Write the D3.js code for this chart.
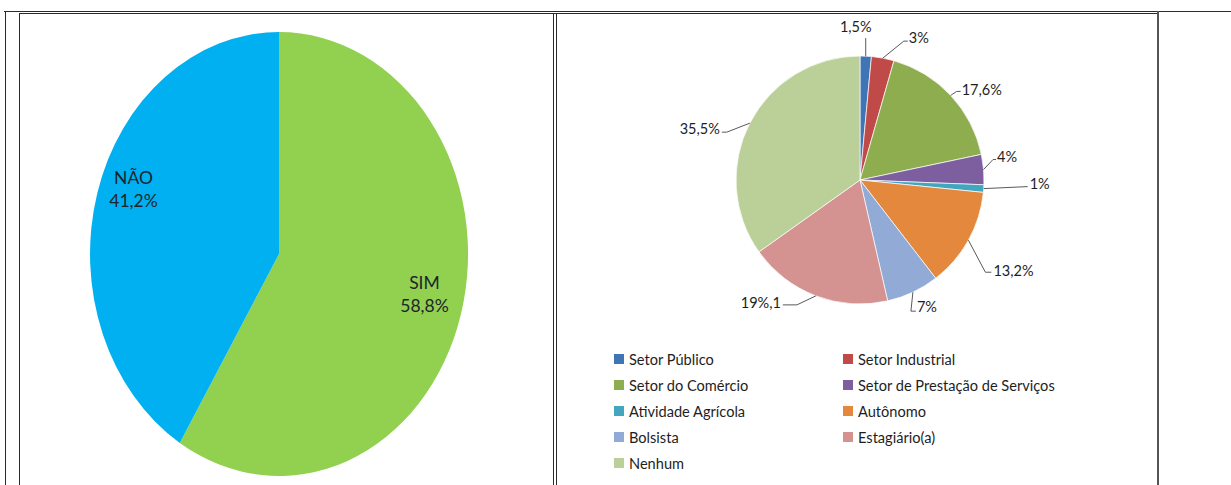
<!DOCTYPE html>
<html>
<head>
<meta charset="utf-8">
<script src="https://cdn.jsdelivr.net/npm/d3@7"></script>
<style>
  body { margin: 0; background: #fff; }
  svg { display: block; font-family: Lato, "Open Sans", sans-serif; }
</style>
</head>
<body>
<svg id="chart" width="1231" height="485"></svg>
<script>
// left pie
var trabalhaLabels = ["SIM", "NÃO"];
var trabalhaValues = [58.8, 41.2];
var trabalhaText = ["58,8%", "41,2%"];
var trabalhaColors = ["#92D050", "#00B0F0"];

// right pie
var setores = ["Setor Público", "Setor Industrial", "Setor do Comércio",
  "Setor de Prestação de Serviços", "Atividade Agrícola", "Autônomo",
  "Bolsista", "Estagiário(a)", "Nenhum"];
var setorValues = [1.5, 3, 17.6, 4, 1, 13.2, 7, 19.1, 35.5];
var setorText = ["1,5%", "3%", "17,6%", "4%", "1%", "13,2%", "7%", "19%,1", "35,5%"];
var setorColors = ["#3F74B5", "#C04A48", "#8DAD4F", "#7D5FA0", "#42A6BF",
  "#E3883D", "#91AAD6", "#D49290", "#BBCF98"];

// leader line layout: elbow offset from slice edge, text offset from elbow
var leaderLayout = [
  { ex: 0,   ey: -18, tail: 0,  tx: -10, ty: -12, anchor: "middle" },
  { ex: 21,  ey: -17, tail: 4,  tx: 5,   ty: -4,  anchor: "start" },
  { ex: 6,   ey: -4,  tail: 4,  tx: 5,   ty: -2,  anchor: "start" },
  { ex: 9.5, ey: -10, tail: 3,  tx: 4,   ty: -3,  anchor: "start" },
  { ex: 44,  ey: -2,  tail: 0,  tx: 2,   ty: -3,  anchor: "start" },
  { ex: 17,  ey: 32,  tail: 6,  tx: 8,   ty: -2,  anchor: "start" },
  { ex: -2,  ey: 19,  tail: 5,  tx: 6,   ty: -5,  anchor: "start" },
  { ex: -19, ey: 9,   tail: -14, tx: -16, ty: -2, anchor: "end" },
  { ex: -23, ey: 9,   tail: -5, tx: -7,  ty: -4,  anchor: "end" }
];

var svg = d3.select("#chart");

// table frame
var frame = svg.append("g").attr("stroke", "#2b2b2b").attr("fill", "none");
frame.append("line").attr("x1", 4).attr("x2", 1231).attr("y1", 11.5).attr("y2", 11.5);
frame.append("line").attr("x1", 19).attr("x2", 1158).attr("y1", 13.5).attr("y2", 13.5);
frame.append("line").attr("x1", 5.5).attr("x2", 5.5).attr("y1", 11).attr("y2", 485);
frame.append("line").attr("x1", 19.5).attr("x2", 19.5).attr("y1", 13).attr("y2", 485);
frame.append("line").attr("x1", 553.5).attr("x2", 553.5).attr("y1", 13).attr("y2", 485);
frame.append("line").attr("x1", 556.5).attr("x2", 556.5).attr("y1", 13).attr("y2", 485);
frame.append("line").attr("x1", 1158).attr("x2", 1158).attr("y1", 11).attr("y2", 485)
  .attr("stroke", "#555").attr("stroke-width", 2);

// ---- left pie (ellipse) ----
var lcx = 279, lcy = 254, lrx = 189, lry = 222;
var pie1 = d3.pie().sort(null).value(function (d) { return d; });
var arcs1 = pie1(trabalhaValues);
var unitArc = d3.arc().innerRadius(0).outerRadius(1);

var left = svg.append("g").attr("transform", "translate(" + lcx + "," + lcy + ")");
left.append("g").attr("transform", "scale(" + lrx + "," + lry + ")")
  .selectAll("path")
  .data(arcs1)
  .enter()
  .append("path")
  .attr("d", unitArc)
  .attr("fill", function (d, i) { return trabalhaColors[i]; });

var labelArc1 = d3.arc().innerRadius(0.8).outerRadius(0.8);
var leftLabelDy = [-7, -16];
var leftLabels = left.selectAll("g.lbl")
  .data(arcs1)
  .enter()
  .append("g")
  .attr("class", "lbl")
  .attr("transform", function (d, i) {
    var c = labelArc1.centroid(d);
    return "translate(" + (c[0] * lrx) + "," + (c[1] * lry + leftLabelDy[i]) + ")";
  })
  .attr("fill", "#1b262c")
  .attr("font-size", 17.5)
  .attr("text-anchor", "middle");
leftLabels.append("text").attr("y", -6).text(function (d, i) { return trabalhaLabels[i]; });
leftLabels.append("text").attr("y", 17).text(function (d, i) { return trabalhaText[i]; });

// ---- right pie ----
var rcx = 860, rcy = 180, rr = 124;
var pie2 = d3.pie().sort(null).value(function (d) { return d; });
var arcs2 = pie2(setorValues);
var arc2 = d3.arc().innerRadius(0).outerRadius(rr);

var right = svg.append("g").attr("transform", "translate(" + rcx + "," + rcy + ")");
right.selectAll("path")
  .data(arcs2)
  .enter()
  .append("path")
  .attr("d", arc2)
  .attr("fill", function (d, i) { return setorColors[i]; })
  .attr("stroke", "#fff")
  .attr("stroke-width", 0.7);

var edgeArc = d3.arc().innerRadius(rr).outerRadius(rr);
arcs2.forEach(function (d, i) {
  var lay = leaderLayout[i];
  var p = edgeArc.centroid(d);
  var ex = p[0] + lay.ex, ey = p[1] + lay.ey;
  var pts = [[p[0], p[1]], [ex, ey]];
  if (lay.tail) pts.push([ex + lay.tail, ey]);
  right.append("path")
    .attr("d", d3.line()(pts))
    .attr("fill", "none")
    .attr("stroke", "#595959")
    .attr("stroke-width", 1);
  right.append("text")
    .attr("x", ex + lay.tx)
    .attr("y", ey + lay.ty)
    .attr("dominant-baseline", "central")
    .attr("text-anchor", lay.anchor)
    .attr("font-size", 14.5)
    .attr("fill", "#1e1e1e")
    .text(setorText[i]);
});

// legend
var legendX = [614, 843], legendY0 = 359, legendStep = 26;
var legend = svg.append("g").selectAll("g")
  .data(setores)
  .enter()
  .append("g")
  .attr("transform", function (d, i) {
    return "translate(" + legendX[i % 2] + "," + (legendY0 + Math.floor(i / 2) * legendStep) + ")";
  });
legend.append("rect")
  .attr("x", 0).attr("y", -5).attr("width", 10).attr("height", 10)
  .attr("fill", function (d, i) { return setorColors[i]; });
legend.append("text")
  .attr("x", 15)
  .attr("dominant-baseline", "central")
  .attr("font-size", 14.6)
  .attr("fill", "#1e1e1e")
  .text(function (d) { return d; });
</script>
</body>
</html>
